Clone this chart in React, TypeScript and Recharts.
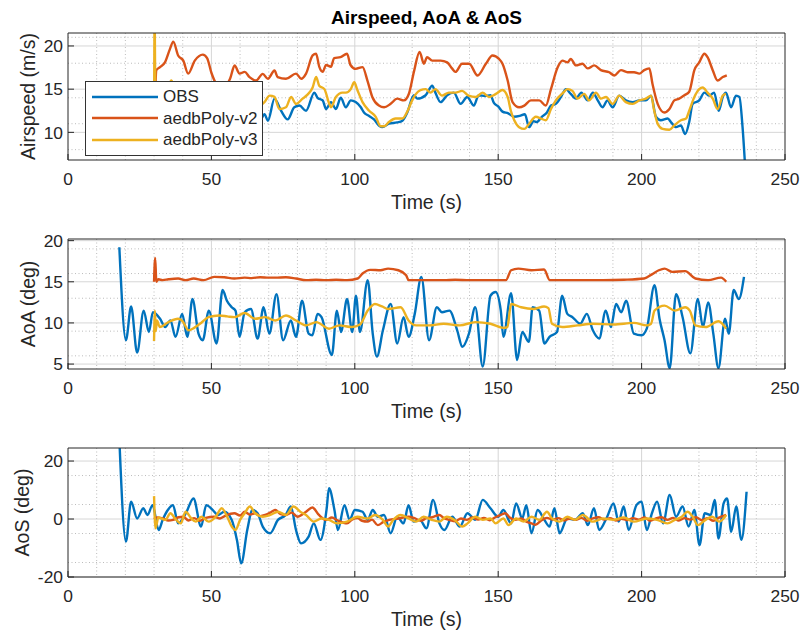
import React from 'react';
import { LineChart, Line, XAxis, YAxis, CartesianGrid, Legend, Label } from 'recharts';

type P = [number, number];

const seriesNames = ['OBS', 'aedbPoly-v2', 'aedbPoly-v3'];
const seriesColors = ['#0072BD', '#D95319', '#EDB120'];
const chartTitle = 'Airspeed, AoA & AoS';
const xLabel = 'Time (s)';

const timeTicks = [0, 50, 100, 150, 200, 250];
const timeMinor = [10, 20, 30, 40, 60, 70, 80, 90, 110, 120, 130, 140, 160, 170, 180, 190, 210, 220, 230, 240];

const airTicks = [10, 15, 20];
const airMinor = [7, 8, 9, 11, 12, 13, 14, 16, 17, 18, 19, 21];
const aoaTicks = [5, 10, 15, 20];
const aoaMinor = [6, 7, 8, 9, 11, 12, 13, 14, 16, 17, 18, 19];
const aosTicks = [-20, 0, 20];
const aosMinor = [-15, -10, -5, 5, 10, 15];

// ---------- Airspeed (m/s) ----------
const obsAirspeed: P[] = [
  [18, 12.5], [20, 11.8], [22, 12.6], [24, 12.0], [26, 12.8], [28, 12.2], [30, 13.0], [32, 12.4], [34, 13.2], [36, 12.6],
  [38, 13.4], [40, 12.8], [42, 13.0], [44, 12.2], [46, 13.2], [48, 12.6], [50, 12.0], [52, 11.6], [54, 12.4], [56, 12.0],
  [58, 12.8], [60, 12.3], [62, 13.0], [64, 12.2], [66, 11.6], [67, 11.4],
  [68.5, 12.1], [69.7, 11.35], [72, 13.9], [74.3, 12.5], [76.6, 11.5], [78.9, 12.9], [80.7, 13.1], [83, 12.5], [85.9, 14.6],
  [87, 14.0], [88.8, 13.7], [90, 12.7], [91.7, 13.5], [93.4, 12.7], [95.1, 14.0], [96.9, 12.9], [98.6, 13.7], [100.3, 13.5],
  [102.1, 12.9], [103.2, 12.3], [105, 11.9], [106.7, 11.5], [108.4, 10.8], [109.6, 10.6], [111.9, 11.0], [114.8, 11.15],
  [116.6, 11.35], [118.3, 12.3], [120.6, 14.3], [121.8, 13.9], [124.7, 14.3], [127, 15.4], [128.1, 14.6], [129.9, 13.5],
  [132.2, 14.3], [134.5, 14.6], [136.9, 13.3], [139.2, 14.1], [141.5, 13.1], [143.2, 14.3], [145.5, 14.2], [147.3, 14.3],
  [148.5, 13.4], [150, 13.0], [151.5, 12.4], [153.5, 12.2], [155.5, 11.8], [157.5, 11.9], [159.3, 12.1], [160.8, 10.6],
  [162.3, 11.3], [163.5, 11.2], [165.2, 11.8], [167, 12.3], [168.4, 13.1], [170.1, 13.3], [171.9, 14.1], [173.6, 15.0],
  [175.3, 14.45], [177.1, 13.9], [179, 14.6], [181.2, 13.7], [183, 14.6], [184.7, 13.7], [186.4, 12.9], [188.1, 13.7],
  [189.9, 12.9], [192.2, 14.25], [194.5, 13.7], [196.9, 13.5], [199.2, 13.7], [201.5, 13.7], [203.3, 14.25], [205, 11.8],
  [206.7, 11.4], [209.1, 11.6], [210.2, 11.2], [212, 10.6], [213.7, 10.8], [215.2, 9.8], [216.6, 11.2], [217.8, 13.3],
  [220.1, 13.7], [221.9, 14.6], [223.6, 14.25], [225.3, 14.6], [226.9, 12.5], [228.3, 14.1], [229.4, 14.6], [231.2, 12.9],
  [232.9, 14.25], [234.1, 14.1], [235.2, 10.6], [236.2, 5.5],
];
const v2Airspeed: P[] = [
  [30.3, 13.0], [30.8, 17.2], [32.1, 17.55], [33.8, 18.1], [35.5, 19.6], [36.7, 20.5], [38.4, 18.9], [40.2, 18.3], [41.9, 16.8],
  [44.2, 18.3], [47, 19.0], [48.5, 18.6], [50, 16.9], [51.7, 15.6], [53, 15.2], [55, 15.4], [56.5, 16.2], [58.1, 17.74],
  [59.8, 16.8], [61.6, 17.0], [63.3, 16.4], [65.6, 16.0], [67.9, 16.77], [69.7, 16.2], [72, 17.16], [73.1, 16.4], [76, 16.2],
  [79.5, 16.8], [81.3, 16.2], [83, 16.8], [85.3, 18.9], [86.5, 19.1], [87.6, 17.6], [88.8, 17.0], [90, 17.8], [91.7, 17.6],
  [92.8, 18.6], [95, 18.7], [97.3, 19.1], [98.5, 17.8], [100.3, 17.35], [102.7, 17.55], [104.4, 16.0], [106.1, 14.1],
  [108.4, 13.1], [110.2, 12.9], [112.5, 13.3], [114.8, 13.9], [117.1, 13.7], [118.9, 14.5], [120.6, 17.0], [122.6, 19.3],
  [124.1, 17.94], [125.2, 18.7], [127, 18.3], [129.9, 18.3], [132.2, 18.1], [133.9, 17.4], [135.1, 17.0], [137.4, 17.94],
  [139.9, 17.94], [142.8, 16.58], [145.7, 17.94], [148, 18.9], [150.3, 18.5], [151.5, 17.94], [153.3, 16.0], [155, 13.5],
  [157.3, 12.9], [159.1, 13.1], [161.4, 13.7], [164.3, 13.7], [166.6, 13.1], [168.4, 15.0], [170.7, 17.5], [172.4, 18.3],
  [174.2, 18.1], [175.3, 18.5], [177.1, 17.75], [179.4, 17.94], [181.2, 17.4], [183.5, 17.75], [185.8, 17.2], [188.7, 16.96],
  [190.5, 16.58], [192.8, 17.2], [195.1, 16.96], [197.4, 16.96], [199.2, 16.8], [200.9, 17.2], [202.7, 17.4], [203.8, 15.6],
  [205.6, 13.3], [207.9, 12.3], [209.7, 12.7], [211.4, 13.7], [213.1, 13.9], [214.9, 14.3], [216.6, 14.7], [218.4, 17.2],
  [220.1, 18.1], [221.9, 19.1], [223, 18.7], [224.8, 17.2], [226.5, 16.0], [228.3, 16.4], [229.7, 16.6],
];
const v3Airspeed: P[] = [
  [30, 10.0], [30.2, 23], [30.5, 13.0], [31.5, 14.5], [33, 14.8], [35, 15.2], [36, 16.0], [37, 15.3], [39, 14.5], [42, 13.8],
  [45, 14.2], [48, 13.5], [51, 13.0], [54, 13.6], [57, 13.2], [60, 13.8], [63, 13.4], [66, 13.0], [68.5, 13.5], [70.3, 14.25],
  [72, 14.1], [73.7, 12.7], [76, 12.9], [77.8, 14.1], [79.5, 13.3], [81.8, 13.9], [83.6, 14.4], [85.3, 15.2], [86.5, 16.4],
  [87.6, 15.4], [89.4, 15.0], [91.1, 13.3], [91.7, 12.9], [93.4, 14.1], [95.7, 14.6], [96.9, 14.6], [98.6, 15.0], [99.8, 15.8],
  [100.9, 14.9], [102.7, 13.5], [105, 12.5], [107.3, 11.8], [109, 10.7], [110.2, 10.7], [111.9, 11.2], [114.2, 11.6],
  [116.6, 11.6], [118.3, 12.4], [120, 13.7], [121.2, 14.4], [122.9, 14.9], [124.7, 15.0], [126.4, 14.6], [128.1, 15.0],
  [130.4, 14.25], [132.8, 14.6], [135.1, 14.6], [137.4, 14.8], [139.7, 14.25], [142.2, 14.1], [144.5, 14.6], [146.9, 14.1],
  [149.2, 14.45], [151.5, 14.9], [153.3, 14.1], [154.4, 12.5], [155.6, 11.4], [157.3, 10.6], [159.1, 10.4], [160.8, 11.0],
  [163.1, 11.8], [164.9, 11.6], [166.6, 11.4], [168.4, 12.7], [170.1, 13.7], [172.4, 14.5], [174.2, 15.0], [175.9, 14.8],
  [177.7, 13.9], [180, 14.45], [181.7, 13.7], [184.1, 14.6], [185.8, 13.9], [187.6, 14.1], [189.9, 13.3], [192.2, 14.25],
  [194.5, 13.5], [196.9, 13.3], [199.2, 13.7], [201.5, 13.9], [203.3, 14.25], [204.4, 12.5], [205.6, 11.0], [207.3, 10.4],
  [209.7, 10.3], [211.4, 10.8], [213.7, 11.4], [215.5, 11.6], [216.6, 12.5], [218.4, 14.1], [220.1, 15.0], [221.3, 15.2],
  [223, 14.6], [224.8, 13.9], [226.5, 12.7], [228.3, 14.25], [229.4, 14.45],
];

// ---------- AoA (deg) ----------
const obsAoA: P[] = [
  [17.9, 19.2], [20.2, 7.9], [22.0, 12.0], [24.1, 6.4], [26.4, 11.5], [28.2, 8.9], [29.6, 11.3], [32.1, 10.5], [33.9, 9.5],
  [35.7, 10.3], [37.5, 8.3], [39.8, 11.1], [41.6, 8.3], [43.4, 12.9], [45.5, 8.7], [47.0, 7.9], [49.1, 11.5], [51.8, 7.5],
  [53.9, 14.0], [55.4, 12.7], [57.1, 11.9], [58.4, 11.5], [59.8, 8.3], [61.6, 11.3], [63.8, 11.7], [66.1, 8.1], [68.2, 11.9],
  [70.2, 8.7], [72.7, 13.5], [75, 7.9], [77.7, 10.3], [79.5, 8.3], [81.6, 12.7], [83.9, 8.7], [85.2, 8.5], [87, 11.1],
  [88.4, 10.7], [92, 6.1], [93.75, 11.5], [95.2, 8.9], [97.3, 12.9], [99.1, 8.9], [100.4, 13.3], [101.8, 8.9], [104.5, 15.2],
  [106.25, 8.7], [107.7, 5.9], [109.8, 9.1], [112.5, 12.3], [114.8, 7.5], [117, 10.7], [118.75, 8.3], [120.9, 11.1],
  [123.2, 15.6], [125.9, 7.9], [128.6, 11.9], [130.4, 11.3], [133, 11.5], [135.7, 9.1], [137.5, 7.1], [139.8, 8.7], [142, 11.9],
  [144.6, 4.7], [147.3, 13.3], [149.1, 13.75], [150.9, 11.5], [151.8, 8.3], [154.5, 13.6], [156.6, 5.5], [158.4, 8.9],
  [160.7, 7.7], [162, 11.9], [164.3, 11.5], [166.1, 7.5], [167.9, 8.3], [170.5, 8.9], [172.3, 13.3], [174.1, 11.1],
  [175.9, 10.7], [178.6, 9.9], [180.9, 11.1], [183, 9.1], [185.2, 8.1], [187.5, 11.5], [189.3, 9.5], [191.1, 12.3],
  [192.9, 11.3], [194.6, 12.7], [197.3, 8.7], [200, 8.5], [201.8, 9.3], [204.5, 14.6], [206.25, 10.5], [208, 7.9],
  [209.8, 4.5], [212, 13.5], [214.3, 10.7], [217, 6.3], [219.6, 12.9], [221.4, 9.5], [223.2, 12.5], [225, 8.7], [226.8, 4.5],
  [229.1, 10.5], [230.4, 8.7], [232.1, 14.0], [233.9, 12.9], [235.7, 15.6],
];
const v2AoA: P[] = [
  [30, 15.0], [30.4, 17.9], [30.8, 15.0], [31.5, 15.3], [33, 15.2], [35, 15.3], [38.4, 15.4], [41, 15.2], [43.8, 15.4],
  [47.3, 15.2], [51, 15.6], [54.5, 15.55], [58, 15.4], [61.6, 15.5], [64, 15.45], [67, 15.55], [70, 15.5], [72.3, 15.5],
  [76, 15.55], [79.5, 15.4], [83, 15.2], [86.5, 15.25], [90, 15.2], [93.5, 15.25], [97.3, 15.2], [101, 15.4], [102.7, 16.0],
  [105.4, 16.45], [109, 16.4], [111.6, 16.6], [115.2, 16.4], [117.9, 15.8], [118.75, 15.2], [124, 15.2], [131, 15.2],
  [135, 15.25], [140, 15.2], [147.3, 15.2], [152.7, 15.2], [154.5, 16.4], [157, 16.6], [161.6, 16.4], [166, 16.5], [168, 15.2],
  [176, 15.2], [186.6, 15.2], [193.8, 15.25], [200.9, 15.4], [203.6, 15.9], [206, 16.4], [208, 16.6], [210.7, 16.2],
  [215.2, 16.3], [218.75, 15.4], [223.2, 15.2], [227.7, 15.5], [229.5, 15.0],
];
const v3AoA: P[] = [
  [30, 7.8], [30.3, 11.5], [30.6, 9.0], [31, 10.3], [32, 9.5], [35, 10.1], [38.4, 10.5], [40, 10.2], [42, 9.1], [44, 9.4],
  [46.4, 10.0], [49, 10.7], [52.7, 10.9], [55.5, 10.8], [58, 10.7], [61.6, 11.2], [65.2, 10.5], [68.75, 10.7], [72.3, 10.3],
  [76, 10.9], [79.5, 10.3], [83, 9.7], [86.6, 10.1], [91, 9.3], [94.6, 9.7], [99, 9.5], [101.8, 9.8], [104.5, 11.5], [107, 12.3],
  [109.5, 12.0], [111.6, 11.7], [116, 11.9], [118.75, 10.3], [121.4, 9.7], [125.9, 9.7], [131, 9.9], [136.6, 9.7], [142, 10.1],
  [147.3, 9.9], [151.8, 9.4], [153.2, 9.5], [154.5, 12.3], [158, 11.9], [162.5, 11.7], [166, 12.0], [167.5, 11.8],
  [168.75, 9.9], [172.3, 9.5], [177.7, 9.7], [183, 9.9], [190.2, 9.8], [197.3, 10.0], [201.8, 9.7], [203.3, 9.9],
  [204.5, 11.5], [208, 12.1], [211.6, 11.5], [215.2, 11.9], [216.8, 11.5], [218.75, 9.7], [222.3, 9.5], [226.8, 10.2],
  [229.5, 9.3],
];

// ---------- AoS (deg) ----------
const obsAoS: P[] = [
  [17.8, 30], [20.2, -7.8], [22, 6.0], [24.1, 0.2], [26.25, 3.7], [27.7, 1.4], [29.5, 4.8], [31.6, -3.8], [33, -0.3],
  [34.8, 3.1], [36.6, 4.8], [38.4, -1.5], [41.1, 2.0], [43.75, 7.1], [46.4, -2.6], [48.2, 4.8], [50.5, 3.1], [52.3, 1.4],
  [54.5, 2.5], [57.1, -0.3], [58.9, -7.2], [60.4, -15.3], [62.5, -3.8], [64.3, 3.1], [66.1, 2.0], [67.9, -2.6], [70.5, -4.9],
  [73.2, -0.3], [75.9, 1.4], [77.7, 4.3], [79.5, -3.8], [81.25, -8.4], [83.9, -6.1], [85.7, -1.5], [88, -7.2], [90.2, 3.7],
  [91, 10.6], [92.9, 3.1], [94.1, -3.8], [96.4, 4.8], [98.2, -0.3], [100, 3.1], [102.7, 2.5], [104.5, -0.3], [106.25, 3.1],
  [108, 0.8], [110.2, 1.4], [112.5, -4.9], [114.8, 0.8], [117, -1.5], [118.75, 4.8], [120.5, -0.9], [122.7, -0.3],
  [125, -3.2], [127.3, 6.6], [129.5, -1.5], [131.25, -3.8], [134, 0.8], [136.6, -2.6], [139.3, 2.0], [142, -0.3],
  [144.6, 6.6], [147.3, 3.7], [150, 0.8], [151.8, 3.1], [154.5, -1.5], [156.25, 5.4], [158.4, 0.2], [159.8, 4.8],
  [161.6, -4.9], [163.75, 3.1], [166.1, -0.3], [167.9, -2.6], [169.6, 3.7], [171.4, -4.9], [174.1, 0.2], [176.8, -0.3],
  [179.5, 2.0], [181.25, -2.1], [183.4, 3.7], [185.2, -3.8], [188, 0.8], [190.2, 5.4], [192, -0.9], [193.75, 4.3],
  [195.5, -3.8], [198.2, 4.8], [200, 6.0], [201.8, -3.8], [203.6, 2.0], [205.4, 6.0], [207.5, -1.5], [209.8, 8.3], [212, 0.8],
  [214.3, 4.3], [216.4, -2.6], [218.4, 3.1], [220.2, -9.0], [222, 2.0], [224.1, 1.4], [225.5, 6.6], [226.8, -6.7],
  [228.6, 5.4], [229.8, 7.1], [231.25, -4.4], [233, 4.3], [234.8, -7.2], [236.6, 9.4],
];
const v2AoS: P[] = [
  [30, 0], [31, 0.5], [33, 0.2], [35, -0.5], [36.6, -0.3], [38.5, 0.6], [40.2, 0.8], [42, -0.5], [44, 0.3], [46, -0.6],
  [48, 0.4], [51, 0.8], [53, 0.2], [55, 1.2], [58, 2.0], [60, 1.2], [61.6, 2.5], [63.5, 1.5], [65.2, 2.0], [67, 1.0],
  [68.75, 1.4], [70.5, 2.2], [72.3, 3.1], [74, 1.8], [76, 1.4], [78, 2.2], [80, 0.8], [83, 2.5], [85.2, 4.0], [87.5, 1.4],
  [90, -0.3], [92, 0.5], [94, -0.5], [97.3, -1.5], [99, -0.2], [101, 0.3], [102.5, -0.6], [104.5, -0.9], [106, -0.2],
  [108, -2.1], [110, -1.0], [112, -0.3], [115.2, 0.2], [118.75, 0.8], [121, 0.2], [123, -0.6], [125, 0.3], [127, 0.6],
  [129.5, 1.4], [131, 0.4], [133, -0.3], [135, -0.8], [137, 0.2], [139, -0.3], [141, 0.5], [143, -0.2], [145, 0.4],
  [147, -0.4], [149, 0.6], [150.9, 1.4], [152.5, 2.0], [154, 0.5], [156, -0.3], [158, 0.2], [160, -1.0], [161.6, -1.5],
  [163, -2.0], [165, -0.5], [167, 0.4], [169, -0.2], [171, 0.3], [173, -0.5], [175, 0.2], [177, -0.3], [179, 0.4],
  [181, -0.6], [183, 0.2], [185, 0.6], [187, -0.2], [189, 0.3], [191, -0.5], [193, 0.1], [195, -0.4], [197, 0.3], [199, -0.2],
  [201, 0.5], [203, -0.6], [205, 0.2], [207, 0.6], [209, -0.3], [211, 0.4], [213, -0.5], [215, 0.3], [217, -0.2], [219, 0.6],
  [221, -0.4], [223, 0.3], [225, -0.6], [227, 0.5], [229.5, 1.4],
];
const v3AoS: P[] = [
  [30, 7.9], [30.5, -3.2], [31.5, 0.5], [32.5, 0.2], [34, -0.3], [35.7, 2.0], [37.5, 0], [39.3, -1.5], [41, 2.5], [43, 0.2],
  [44.6, -0.9], [46.5, 0.8], [49, -0.9], [51.5, 0.8], [53.6, 3.7], [55.5, 0.8], [57.1, -2.6], [58.4, -3.8], [60, -0.3],
  [61.6, 2.0], [63.4, 4.3], [65.2, 2.0], [67.9, 0.8], [70.5, 1.4], [73.2, 2.5], [76, 1.4], [78.6, 4.3], [81, 2.5], [83, 1.4],
  [85.7, -0.9], [88.4, 0.2], [91, -0.3], [93.75, -1.5], [97.3, -0.9], [100.9, 0.8], [104.5, 0.2], [107, 1.4], [109.8, -0.3],
  [111.6, -2.6], [113.4, -0.3], [116, 1.4], [118.75, 0.2], [121.4, -0.9], [124, 0.8], [126.8, -0.3], [129.5, -0.9], [132, 0.8],
  [134.8, -0.3], [137.5, -2.6], [139.3, -1.5], [142, 0.8], [144.6, -0.3], [147.3, 0.2], [149.1, -1.5], [151.8, 0.2],
  [153.6, -2.1], [156.25, 0.2], [158.9, -0.9], [161.6, 0.8], [164.3, -0.3], [167, 2.5], [168.75, 0.2], [171.4, -0.9],
  [174.1, 0.8], [176.8, -0.3], [179.5, 1.4], [183, -0.9], [186.6, 0.2], [190.2, -0.3], [193.8, 0.5], [197.3, -0.9],
  [201.8, 0.2], [205.4, -0.3], [209, -1.5], [211.6, -0.3], [214, 0.8], [216, 2.5], [217.8, 0.8], [219.6, -2.1], [222.3, -0.3],
  [224.6, 0.8], [227, -0.9], [229.5, 1.4],
];

const FONT = '"Liberation Sans", Arial, Helvetica, sans-serif';
const AXIS = '#262626';
const toRows = (pts: P[]) => pts.map(([t, v]) => ({ t, v }));

const renderLegend = (props: any) => {
  const payload = props.payload || [];
  return (
    <div
      style={{
        width: 176,
        height: 69,
        border: '1px solid #333',
        background: '#fff',
        paddingTop: 4,
        boxSizing: 'content-box',
        fontFamily: FONT,
      }}
    >
      {payload.map((e: any, i: number) => (
        <div key={i} style={{ display: 'flex', alignItems: 'center', height: 21.5, paddingLeft: 6 }}>
          <svg width={66} height={6} style={{ display: 'block' }}>
            <line x1={0} y1={3} x2={66} y2={3} stroke={e.color} strokeWidth={2.5} />
          </svg>
          <span style={{ marginLeft: 5, fontSize: 17, color: AXIS, lineHeight: '21px', whiteSpace: 'nowrap' }}>{e.value}</span>
        </div>
      ))}
    </div>
  );
};

type PanelProps = {
  top: number;
  plotH: number;
  domain: [number, number];
  ticks: number[];
  minor: number[];
  yLabel: string;
  labelX: number;
  series: P[][];
  legend?: boolean;
};

const Panel = ({ top, plotH, domain, ticks, minor, yLabel, labelX, series, legend }: PanelProps) => {
  const H = 33 + plotH + 62;
  const tickStyle = { fontSize: 17.4, fill: AXIS, fontFamily: FONT };
  return (
    <div style={{ position: 'absolute', left: 0, top }}>
      <LineChart width={802} height={H} margin={{ top: 32, right: 16, bottom: 12, left: 0 }}>
        <XAxis
          xAxisId="b"
          type="number"
          dataKey="t"
          domain={[0, 250]}
          ticks={timeTicks}
          allowDataOverflow
          height={50}
          tickSize={-6}
          tickMargin={19}
          tick={tickStyle}
          axisLine={{ stroke: AXIS, strokeWidth: 1 }}
          tickLine={{ stroke: AXIS }}
        >
          <Label value={xLabel} position="insideBottom" offset={1} style={{ fontSize: 19.5, fill: AXIS, fontFamily: FONT }} />
        </XAxis>
        <XAxis
          xAxisId="t"
          orientation="top"
          type="number"
          dataKey="t"
          domain={[0, 250]}
          ticks={timeTicks}
          allowDataOverflow
          height={1}
          tickSize={-6}
          tick={false}
          axisLine={{ stroke: AXIS, strokeWidth: 1 }}
          tickLine={{ stroke: AXIS }}
        />
        <YAxis
          yAxisId="l"
          type="number"
          domain={domain}
          ticks={ticks}
          allowDataOverflow
          width={68}
          tickSize={-6}
          tickMargin={11}
          tick={tickStyle}
          axisLine={{ stroke: AXIS, strokeWidth: 1 }}
          tickLine={{ stroke: AXIS }}
        >
          <Label
            value={yLabel}
            angle={-90}
            position="insideLeft"
            offset={labelX}
            style={{ textAnchor: 'middle', fontSize: 19.5, fill: AXIS, fontFamily: FONT }}
          />
        </YAxis>
        <YAxis
          yAxisId="r"
          orientation="right"
          type="number"
          domain={domain}
          ticks={ticks}
          allowDataOverflow
          width={1}
          tickSize={-6}
          tick={false}
          axisLine={{ stroke: AXIS, strokeWidth: 1 }}
          tickLine={{ stroke: AXIS }}
        />
        <CartesianGrid
          xAxisId="b"
          yAxisId="l"
          horizontalValues={minor}
          verticalValues={timeMinor}
          stroke="#bcbcbc"
          strokeDasharray="1 2.5"
          strokeWidth={1}
        />
        <CartesianGrid
          xAxisId="b"
          yAxisId="l"
          horizontalValues={ticks}
          verticalValues={timeTicks.slice(1, -1)}
          stroke="#d6d6d6"
          strokeWidth={1}
        />
        {series.map((s, i) => (
          <Line
            key={seriesNames[i]}
            xAxisId="b"
            yAxisId="l"
            data={toRows(s)}
            dataKey="v"
            name={seriesNames[i]}
            type="monotone"
            stroke={seriesColors[i]}
            strokeWidth={2.4}
            dot={false}
            activeDot={false}
            isAnimationActive={false}
          />
        ))}
        {legend && (
          <Legend
            layout="horizontal"
            verticalAlign="middle"
            align="center"
            content={renderLegend}
            wrapperStyle={{ position: 'absolute', left: 85, top: 81, width: 178, height: 73 }}
          />
        )}
      </LineChart>
    </div>
  );
};

export default function App() {
  return (
    <div style={{ position: 'absolute', left: 0, top: 0, width: 802, height: 632, background: '#fff', fontFamily: FONT }}>
      <Panel top={0} plotH={127} domain={[6.8, 21.5]} ticks={airTicks} minor={airMinor} yLabel="Airspeed (m/s)" labelX={28}
        series={[obsAirspeed, v2Airspeed, v3Airspeed]} legend />
      <Panel top={206} plotH={130} domain={[4.4, 20.2]} ticks={aoaTicks} minor={aoaMinor} yLabel="AoA (deg)" labelX={28}
        series={[obsAoA, v2AoA, v3AoA]} />
      <Panel top={415} plotH={129} domain={[-20, 24.5]} ticks={aosTicks} minor={aosMinor} yLabel="AoS (deg)" labelX={22}
        series={[obsAoS, v2AoS, v3AoS]} />
      <div
        style={{
          position: 'absolute',
          left: 68,
          top: 8,
          width: 717,
          textAlign: 'center',
          fontWeight: 'bold',
          fontSize: 19,
          lineHeight: '19px',
          color: '#000',
          fontFamily: FONT,
        }}
      >
        {chartTitle}
      </div>
    </div>
  );
}
